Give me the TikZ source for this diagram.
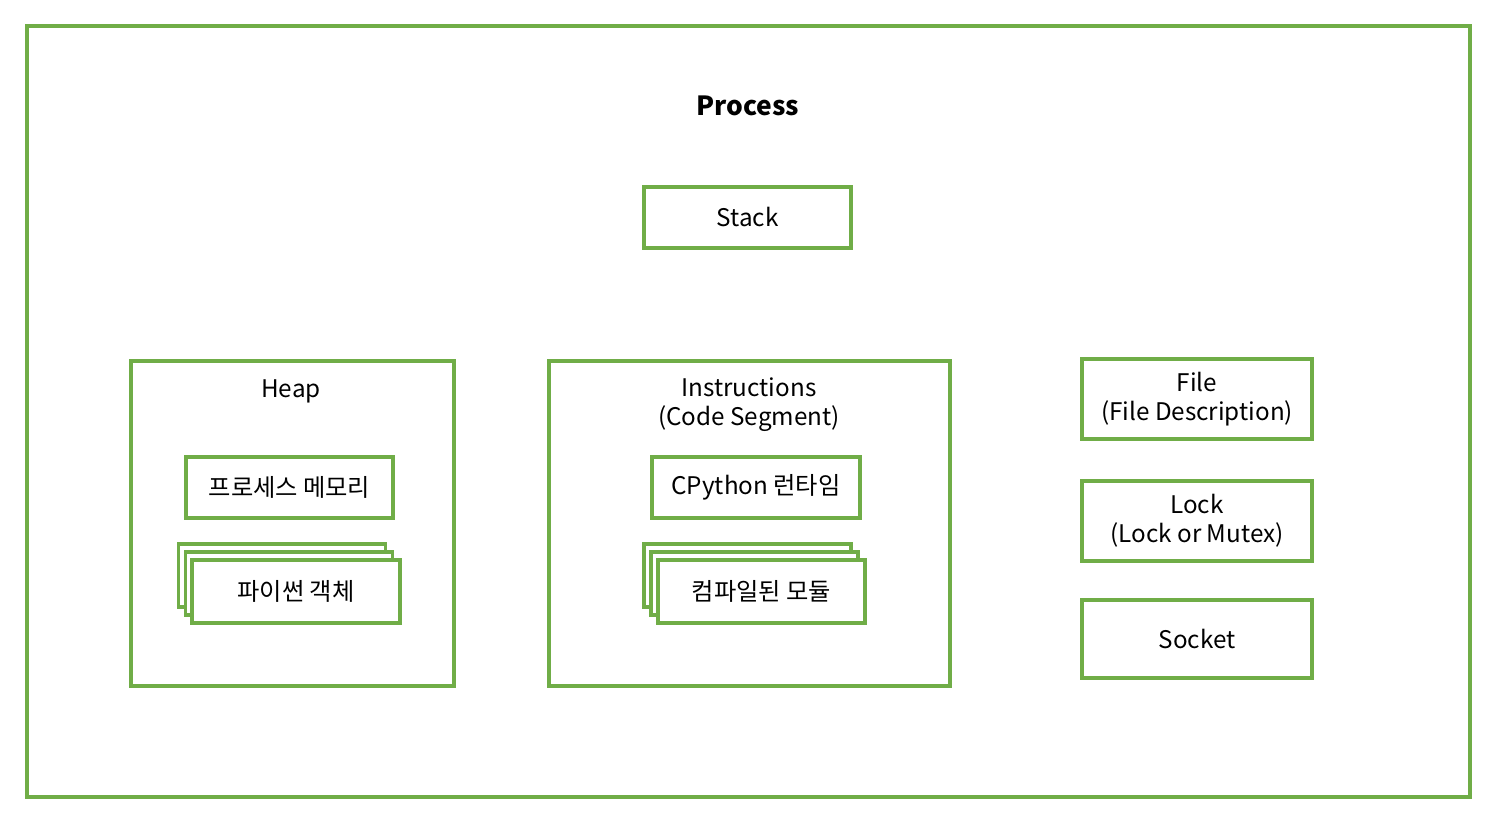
\documentclass[tikz,border=0pt]{standalone}
\usepackage{fontspec}
\setmainfont{Noto Sans CJK KR}
\usepackage{tikz}
\definecolor{procgreen}{RGB}{112,173,71}
\tikzstyle{frame}=[draw=procgreen,line width=0.9pt,fill=white,inner sep=0pt,align=center,font=\fontsize{6.9}{8.2}\selectfont]
\tikzstyle{part}=[frame,minimum width=2.07cm,minimum height=0.61cm]
\tikzstyle{res}=[frame,minimum width=2.30cm,minimum height=0.80cm]

\begin{document}
\begin{tikzpicture}
\useasboundingbox (0,0) rectangle (14.90,8.28);
\node[frame,minimum width=14.43cm,minimum height=7.71cm] at (7.485,4.165) (proc) {};
\node[font=\fontsize{7.5}{9}\selectfont\bfseries] at (7.48,7.22) (title) {Process};
\node[part] at (7.475,6.105) (stack) {Stack};
% heap
\node[frame,minimum width=3.23cm,minimum height=3.25cm] at (2.925,3.045) (heap) {};
\node[font=\fontsize{6.9}{8.2}\selectfont] at (2.91,4.37) (heaplbl) {Heap};
\node[part] at (2.895,3.405) (mem) {프로세스 메모리};
\node[part,minimum height=0.63cm] at (2.82,2.525) (obj3) {};
\node[part,minimum height=0.63cm] at (2.89,2.445) (obj2) {};
\node[part,minimum height=0.63cm,minimum width=2.08cm] at (2.96,2.365) (obj) {파이썬 객체};
% instructions
\node[frame,minimum width=4.01cm,minimum height=3.25cm] at (7.495,3.045) (instr) {};
\node[font=\fontsize{6.9}{8.2}\selectfont,align=center] at (7.49,4.23) (instrlbl) {Instructions\\(Code Segment)};
\node[part,minimum width=2.08cm] at (7.56,3.405) (rt) {CPython 런타임};
\node[part,minimum height=0.63cm] at (7.475,2.525) (mod3) {};
\node[part,minimum height=0.63cm] at (7.545,2.445) (mod2) {};
\node[part,minimum height=0.63cm] at (7.615,2.365) (mod) {컴파일된 모듈};
% resources
\node[res] at (11.97,4.29) (file) {File\\(File Description)};
\node[res] at (11.97,3.07) (lock) {Lock\\(Lock or Mutex)};
\node[res,minimum height=0.78cm] at (11.97,1.89) (sock) {Socket};
\end{tikzpicture}
\end{document}
